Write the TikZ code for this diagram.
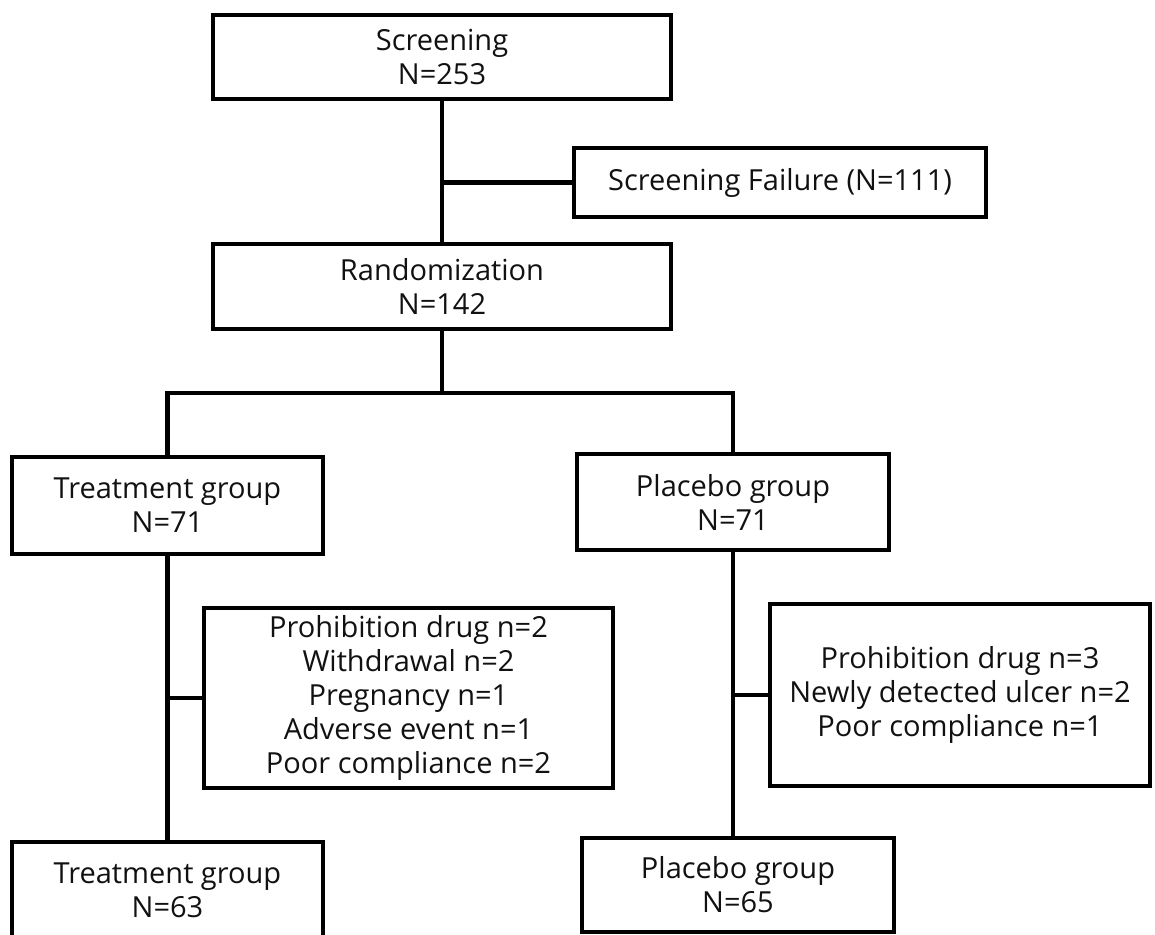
\documentclass[tikz,border=0pt]{standalone}
\usepackage{fontspec}
\setmainfont{Open Sans}
\usetikzlibrary{positioning,calc}
\definecolor{DarkText}{HTML}{111111}
\tikzset{
  box/.style={draw=black, line width=2.2pt, fill=white, text=DarkText, align=center, inner sep=0pt, font=\fontsize{14.5}{17}\selectfont},
  conn/.style={draw=black, line width=2.2pt}
}
\begin{document}
\begin{tikzpicture}[x=0.5pt,y=-0.5pt]
\clip (0,0) rectangle (1155,934);
\fill[white] (0,0) rectangle (1155,934);
% boxes
\node[box, minimum width=229pt, minimum height=42pt] (scr) at (442,57) {Screening\\N=253};
\node[box, minimum width=206pt, minimum height=34.5pt] (fail) at (780,182.5) {Screening Failure (N=111)};
\node[box, minimum width=229pt, minimum height=42.5pt] (rand) at (442,286.5) {Randomization\\N=142};
\node[box, minimum width=155.5pt, minimum height=48.5pt] (treat) at (167.5,505.5) {Treatment group\\N=71};
\node[box, minimum width=156pt, minimum height=48pt] (plac) at (733,502) {Placebo group\\N=71};
\node[box, minimum width=204.5pt, minimum height=90pt] (wdt) at (408.5,698) {Prohibition drug n=2\\Withdrawal n=2\\Pregnancy n=1\\Adverse event n=1\\Poor compliance n=2};
\node[box, minimum width=190pt, minimum height=91pt] (wdp) at (960,695) {Prohibition drug n=3\\Newly detected ulcer n=2\\Poor compliance n=1};
\node[box, minimum width=155.5pt, minimum height=48.5pt] (fint) at (167.5,890.5) {Treatment group\\N=63};
\node[box, minimum width=156pt, minimum height=47pt] (finp) at (738,885) {Placebo group\\N=65};
% connectors
\coordinate (split) at (442,393);
\draw[conn] (scr.south) -- (rand.north);
\draw[conn] (scr.south |- fail.west) -- (fail.west);
\draw[conn] (rand.south) -- (split);
\draw[conn] (treat.north) |- (split) -| (plac.north);
\draw[conn] (treat.south) -- (fint.north);
\draw[conn] (treat.south |- wdt.west) -- (wdt.west);
\draw[conn] (plac.south) -- (plac.south |- finp.north);
\draw[conn] (plac.south |- wdp.west) -- (wdp.west);
\end{tikzpicture}
\end{document}
